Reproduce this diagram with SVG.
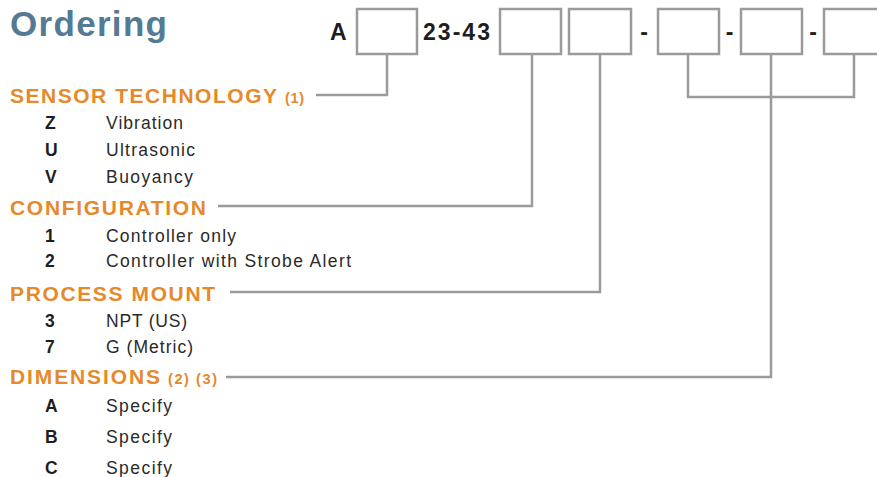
<svg xmlns="http://www.w3.org/2000/svg" width="877" height="477" viewBox="0 0 877 477">
<style>
.title{font-family:"Liberation Sans",Arial,sans-serif;font-weight:bold;font-size:35px;fill:#557a93}
.code{font-family:"Liberation Sans",Arial,sans-serif;font-weight:bold;font-size:23px;fill:#1e1e1e}
.head{font-family:"Liberation Sans",Arial,sans-serif;font-weight:bold;font-size:21px;fill:#e6892a}
.note{font-family:"Liberation Sans",Arial,sans-serif;font-weight:bold;font-size:14.5px;fill:#e6892a}
.key{font-family:"Liberation Sans",Arial,sans-serif;font-weight:bold;font-size:17.5px;fill:#1e1e1e}
.desc{font-family:"Liberation Sans",Arial,sans-serif;font-size:17.5px;fill:#2a2a2a}
.box{fill:#ffffff;stroke:#9a9a9a;stroke-width:2.5}
.conn{fill:none;stroke:#9a9a9a;stroke-width:2.5}
</style>
<rect width="877" height="477" fill="#ffffff"/>
<text class="title" x="10" y="35.5" textLength="157" lengthAdjust="spacing">Ordering</text>

<g id="code">
<text class="code" x="330" y="39.5">A</text>
<text class="code" x="423" y="39.5" textLength="67" lengthAdjust="spacing">23-43</text>
<text class="code" x="644" y="39.5" text-anchor="middle">-</text>
<text class="code" x="729.5" y="39.5" text-anchor="middle">-</text>
<text class="code" x="813" y="39.5" text-anchor="middle">-</text>
</g>

<g id="box1"><rect class="box" x="357" y="9" width="60" height="45"/></g>
<g id="box2"><rect class="box" x="500" y="9" width="61" height="45"/></g>
<g id="box3"><rect class="box" x="569" y="9" width="62" height="45"/></g>
<g id="box4"><rect class="box" x="658" y="9" width="61" height="45"/></g>
<g id="box5"><rect class="box" x="741" y="9" width="61" height="45"/></g>
<g id="box6"><rect class="box" x="824" y="9" width="61" height="45"/></g>

<g id="connectors">
<path class="conn" d="M387 54 V95 H316"/>
<path class="conn" d="M532 54 V206 H218"/>
<path class="conn" d="M600 54 V292 H230"/>
<path class="conn" d="M688 54 V97 H854 V54"/>
<path class="conn" d="M771 54 V377 H226"/>
</g>

<g id="sensor-technology">
<text class="head" x="10" y="103" textLength="267" lengthAdjust="spacing">SENSOR TECHNOLOGY</text>
<text class="note" x="285" y="103" textLength="19" lengthAdjust="spacing">(1)</text>
<text class="key" x="45" y="129">Z</text><text class="desc" x="106" y="129" textLength="77" lengthAdjust="spacing">Vibration</text>
<text class="key" x="45" y="156">U</text><text class="desc" x="106" y="156" textLength="89" lengthAdjust="spacing">Ultrasonic</text>
<text class="key" x="45" y="182.5">V</text><text class="desc" x="106" y="182.5" textLength="87" lengthAdjust="spacing">Buoyancy</text>
</g>

<g id="configuration">
<text class="head" x="10" y="215" textLength="196" lengthAdjust="spacing">CONFIGURATION</text>
<text class="key" x="45" y="241.5">1</text><text class="desc" x="106" y="241.5" textLength="130" lengthAdjust="spacing">Controller only</text>
<text class="key" x="45" y="267">2</text><text class="desc" x="106" y="267" textLength="245" lengthAdjust="spacing">Controller with Strobe Alert</text>
</g>

<g id="process-mount">
<text class="head" x="10" y="300.5" textLength="205" lengthAdjust="spacing">PROCESS MOUNT</text>
<text class="key" x="45" y="327">3</text><text class="desc" x="106" y="327" textLength="81" lengthAdjust="spacing">NPT (US)</text>
<text class="key" x="45" y="353">7</text><text class="desc" x="106" y="353" textLength="87" lengthAdjust="spacing">G (Metric)</text>
</g>

<g id="dimensions">
<text class="head" x="10" y="384" textLength="150" lengthAdjust="spacing">DIMENSIONS</text>
<text class="note" x="168" y="384" textLength="49" lengthAdjust="spacing">(2) (3)</text>
<text class="key" x="45" y="411.5">A</text><text class="desc" x="106" y="411.5" textLength="66" lengthAdjust="spacing">Specify</text>
<text class="key" x="45" y="443">B</text><text class="desc" x="106" y="443" textLength="66" lengthAdjust="spacing">Specify</text>
<text class="key" x="45" y="474">C</text><text class="desc" x="106" y="474" textLength="66" lengthAdjust="spacing">Specify</text>
</g>
</svg>
